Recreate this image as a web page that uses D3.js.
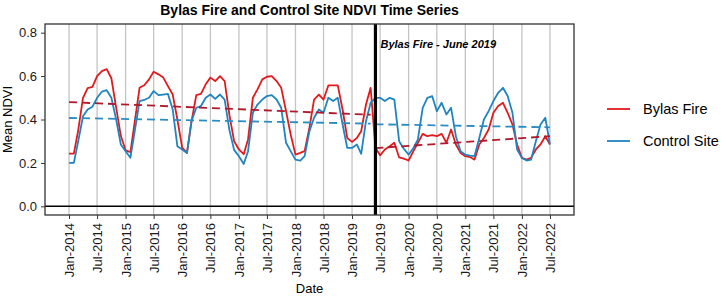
<!DOCTYPE html>
<html>
<head>
<meta charset="utf-8">
<script src="https://cdn.jsdelivr.net/npm/d3@7/dist/d3.min.js"></script>
<style>
body { margin: 0; background: #fff; }
svg text { font-family: "Liberation Sans", Arial, sans-serif; }
</style>
</head>
<body>
<div id="main"></div>
<script>
// monthly mean NDVI, Jan-2014 .. Jul-2022
const firstMonth = "2014-01";
const bylasFire = [
    0.243, 0.243, 0.35, 0.50, 0.545, 0.55, 0.60, 0.623, 0.632, 0.59, 0.455, 0.325,
    0.258, 0.25, 0.39, 0.546, 0.558, 0.585, 0.62, 0.608, 0.593, 0.554, 0.515, 0.40,
    0.27, 0.246, 0.39, 0.512, 0.518, 0.562, 0.593, 0.577, 0.60, 0.577, 0.42, 0.30,
    0.262, 0.24, 0.308, 0.50, 0.539, 0.585, 0.597, 0.60, 0.577, 0.546, 0.439, 0.331,
    0.238, 0.246, 0.254, 0.362, 0.492, 0.515, 0.492, 0.557, 0.557, 0.557, 0.446, 0.315,
    0.297, 0.315, 0.346, 0.469, 0.546, 0.27, 0.235, 0.262, 0.277, 0.293, 0.225, 0.22,
    0.211, 0.254, 0.293, 0.334, 0.323, 0.328, 0.323, 0.334, 0.293, 0.354, 0.285, 0.246,
    0.231, 0.227, 0.215, 0.285, 0.315, 0.355, 0.431, 0.462, 0.477, 0.431, 0.377, 0.285,
    0.223, 0.215, 0.223, 0.262, 0.285, 0.323, 0.285
];
const controlSite = [
    0.20, 0.20, 0.30, 0.415, 0.446, 0.459, 0.50, 0.528, 0.535, 0.50, 0.40, 0.285,
    0.254, 0.224, 0.346, 0.485, 0.49, 0.50, 0.531, 0.512, 0.515, 0.518, 0.446, 0.277,
    0.262, 0.246, 0.392, 0.454, 0.462, 0.50, 0.515, 0.495, 0.515, 0.492, 0.35, 0.26,
    0.231, 0.195, 0.254, 0.431, 0.469, 0.492, 0.508, 0.512, 0.492, 0.454, 0.293, 0.254,
    0.215, 0.211, 0.231, 0.346, 0.408, 0.446, 0.431, 0.50, 0.485, 0.50, 0.377, 0.269,
    0.269, 0.285, 0.242, 0.392, 0.477, 0.50, 0.50, 0.485, 0.50, 0.492, 0.30, 0.265,
    0.238, 0.269, 0.308, 0.454, 0.50, 0.508, 0.438, 0.477, 0.423, 0.454, 0.323, 0.254,
    0.238, 0.234, 0.231, 0.315, 0.40, 0.44, 0.485, 0.523, 0.546, 0.508, 0.431, 0.262,
    0.223, 0.211, 0.215, 0.30, 0.377, 0.408, 0.285
];

// dashed trend lines, before and after the fire (end points)
const bylasTrendPre = [["2014-01", 0.48], ["2019-05", 0.422]];
const bylasTrendPost = [["2019-06", 0.268], ["2022-07", 0.323]];
const controlTrendPre = [["2014-01", 0.407], ["2019-05", 0.381]];
const controlTrendPost = [["2019-06", 0.378], ["2022-07", 0.364]];

const fireMonth = "2019-06";
const fireLabel = "Bylas Fire - June 2019";

const xTickLabels = ["Jan-2014", "Jul-2014", "Jan-2015", "Jul-2015", "Jan-2016", "Jul-2016",
    "Jan-2017", "Jul-2017", "Jan-2018", "Jul-2018", "Jan-2019", "Jul-2019",
    "Jan-2020", "Jul-2020", "Jan-2021", "Jul-2021", "Jan-2022", "Jul-2022"];
const yTicks = [0, 0.2, 0.4, 0.6, 0.8];

const seriesNames = ["Bylas Fire", "Control Site"];
const seriesColors = ["#e31a1c", "#1f84c2"];
const trendColors = ["#b2182b", "#2b8cc4"];

ctx = {
    width: 726,
    height: 296,
    left: 45,
    right: 574,
    top: 24,
    bottom: 215,
    svg: null,
};

const parseMonth = d3.timeParse("%Y-%m");
const parseTick = d3.timeParse("%b-%Y");

function toPoints(values) {
    const start = parseMonth(firstMonth);
    return values.map((v, i) => ({date: d3.timeMonth.offset(start, i), value: v}));
}

function drawChart(svg) {
    const red = toPoints(bylasFire);
    const blue = toPoints(controlSite);
    const d0 = red[0].date, d1 = red[red.length - 1].date;
    const pad = (d1 - d0) * 0.05;

    const x = d3.scaleTime()
        .domain([new Date(+d0 - pad), new Date(+d1 + pad)])
        .range([ctx.left, ctx.right]);
    const y = d3.scaleLinear()
        .domain([-0.04, 0.84])
        .range([ctx.bottom, ctx.top]);

    const tickDates = xTickLabels.map(parseTick);

    // vertical grid
    svg.append("g")
        .selectAll("line")
        .data(tickDates)
        .enter().append("line")
        .attr("x1", d => x(d)).attr("x2", d => x(d))
        .attr("y1", ctx.top).attr("y2", ctx.bottom)
        .attr("stroke", "#c4c4c4")
        .attr("stroke-width", 1.3);

    // zero line
    svg.append("line")
        .attr("x1", ctx.left).attr("x2", ctx.right)
        .attr("y1", y(0)).attr("y2", y(0))
        .attr("stroke", "#000")
        .attr("stroke-width", 1.4);

    let line = d3.line().x(d => x(d.date)).y(d => y(d.value));

    [red, blue].forEach((pts, i) => {
        svg.append("path")
            .datum(pts)
            .attr("d", line)
            .attr("fill", "none")
            .attr("stroke", seriesColors[i])
            .attr("stroke-width", 1.8)
            .attr("stroke-linejoin", "round");
    });

    const trends = [
        [bylasTrendPre, trendColors[0]], [bylasTrendPost, trendColors[0]],
        [controlTrendPre, trendColors[1]], [controlTrendPost, trendColors[1]]
    ];
    trends.forEach(t => {
        const pts = t[0].map(p => ({date: parseMonth(p[0]), value: p[1]}));
        svg.append("path")
            .datum(pts)
            .attr("d", line)
            .attr("fill", "none")
            .attr("stroke", t[1])
            .attr("stroke-width", 1.8)
            .attr("stroke-dasharray", "8,5");
    });

    // fire date
    const fx = x(parseMonth(fireMonth));
    svg.append("line")
        .attr("x1", fx).attr("x2", fx)
        .attr("y1", ctx.top).attr("y2", ctx.bottom)
        .attr("stroke", "#000")
        .attr("stroke-width", 3.2);
    svg.append("text")
        .attr("x", fx + 5)
        .attr("y", 48)
        .attr("font-size", 11)
        .attr("font-weight", "bold")
        .attr("font-style", "italic")
        .text(fireLabel);

    // panel border
    svg.append("rect")
        .attr("x", ctx.left).attr("y", ctx.top)
        .attr("width", ctx.right - ctx.left)
        .attr("height", ctx.bottom - ctx.top)
        .attr("fill", "none")
        .attr("stroke", "#333")
        .attr("stroke-width", 1.3);

    // axes
    let yAxis = svg.append("g")
        .attr("transform", "translate(" + ctx.left + ",0)")
        .call(d3.axisLeft(y).tickValues(yTicks).tickFormat(d3.format(".1f")).tickSize(4).tickPadding(4));
    yAxis.select(".domain").remove();
    yAxis.selectAll("text").attr("font-size", 13).attr("fill", "#1a1a1a");
    yAxis.selectAll("line").attr("stroke", "#333");

    let xAxis = svg.append("g")
        .attr("transform", "translate(0," + ctx.bottom + ")")
        .call(d3.axisBottom(x).tickValues(tickDates).tickFormat(d3.timeFormat("%b-%Y")).tickSize(4));
    xAxis.select(".domain").remove();
    xAxis.selectAll("line").attr("stroke", "#333");
    xAxis.selectAll("text")
        .attr("font-size", 13)
        .attr("fill", "#1a1a1a")
        .attr("x", -8)
        .attr("y", 0)
        .attr("dy", "0.35em")
        .attr("transform", "rotate(-90)")
        .style("text-anchor", "end");

    // titles
    svg.append("text")
        .attr("x", (ctx.left + ctx.right) / 2)
        .attr("y", 15)
        .attr("text-anchor", "middle")
        .attr("font-size", 14)
        .attr("font-weight", "bold")
        .text("Bylas Fire and Control Site NDVI Time Series");
    svg.append("text")
        .attr("x", (ctx.left + ctx.right) / 2)
        .attr("y", 293)
        .attr("text-anchor", "middle")
        .attr("font-size", 13)
        .text("Date");
    svg.append("text")
        .attr("transform", "translate(12," + (ctx.top + ctx.bottom) / 2 + ") rotate(-90)")
        .attr("text-anchor", "middle")
        .attr("font-size", 13)
        .text("Mean NDVI");

    // legend
    let legend = svg.append("g")
        .selectAll("g")
        .data(seriesNames)
        .enter().append("g")
        .attr("transform", (d, i) => "translate(607," + (109 + i * 32) + ")");
    legend.append("line")
        .attr("x1", 0).attr("x2", 23)
        .attr("stroke", (d, i) => seriesColors[i])
        .attr("stroke-width", 1.8);
    legend.append("text")
        .attr("x", 36)
        .attr("dy", "0.35em")
        .attr("font-size", 14.5)
        .text(d => d);
}

function createViz() {
    let svgEl = d3.select("#main").append("svg");
    svgEl.attr("width", ctx.width);
    svgEl.attr("height", ctx.height);
    ctx.svg = svgEl;
    drawChart(svgEl);
}

createViz();
</script>
</body>
</html>
